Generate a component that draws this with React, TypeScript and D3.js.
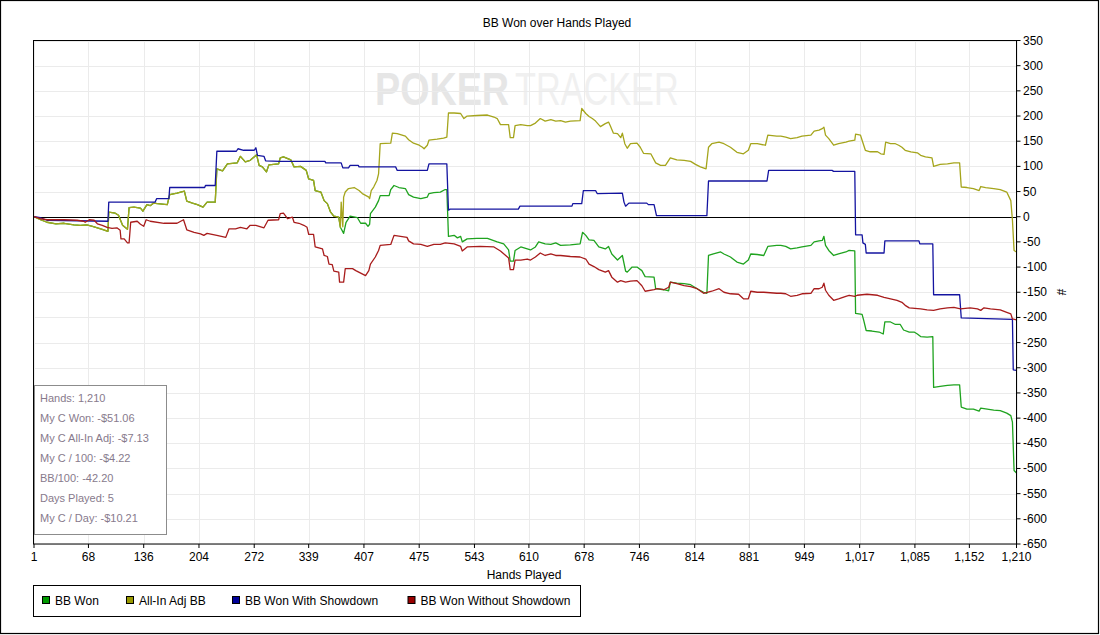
import React from "react";
import * as d3 from "d3";

type Pt = [number, number];

const chartTitle = "BB Won over Hands Played";
const xAxisTitle = "Hands Played";
const yAxisTitle = "#";
const watermarkBold = "POKER";
const watermarkLight = "TRACKER";

const xTicks = [1, 68, 136, 204, 272, 339, 407, 475, 543, 610, 678, 746, 814, 881, 949, 1017, 1085, 1152, 1210];
const yTicks = d3.range(-650, 351, 50);

const statsLines = [
  "Hands: 1,210",
  "My C Won: -$51.06",
  "My C All-In Adj: -$7.13",
  "My C / 100: -$4.22",
  "BB/100: -42.20",
  "Days Played: 5",
  "My C / Day: -$10.21",
];

const seriesNames = ["BB Won", "All-In Adj BB", "BB Won With Showdown", "BB Won Without Showdown"];
const seriesLineColors = ["#1fa31f", "#a5a51c", "#1414a0", "#a81c1c"];
const seriesSwatchColors = ["#009900", "#999900", "#000099", "#990000"];

// BB Won (hand, BB)
const bbWon: Pt[] = [
  [1,0],[9,-6],[17,-11],[28,-14],[38,-13],[50,-16],[58,-17],[66,-16],[73,-19],[79,-22],[85,-25],[92,-29],[93,9],[101,7],[105,3],[110,-17],[116,-25],[118,18],[124,19],[132,17],[135,11],[140,24],[144,22],[148,27],[153,26],[165,24],[168,44],[177,47],[186,51],[189,31],[196,27],[202,24],[209,19],[214,29],[224,29],[226,95],[233,91],[239,105],[251,107],[255,120],[261,109],[267,112],[275,123],[278,102],[282,99],[287,89],[290,103],[302,105],[304,117],[308,119],[317,113],[321,99],[329,100],[336,92],[339,75],[345,72],[347,52],[354,49],[358,32],[362,26],[366,9],[370,1],[376,-1],[378,-21],[382,-33],[385,-11],[390,1],[399,-2],[403,-13],[409,-13],[412,-19],[414,-15],[415,6],[421,19],[425,32],[427,42],[438,42],[440,54],[444,62],[450,58],[458,56],[462,44],[468,39],[477,36],[485,39],[487,46],[493,48],[501,49],[507,54],[509,54],[511,-39],[518,-37],[522,-42],[526,-39],[528,-50],[534,-44],[546,-43],[559,-43],[571,-50],[579,-54],[585,-66],[587,-88],[591,-88],[593,-67],[600,-60],[608,-64],[612,-66],[618,-60],[622,-50],[630,-54],[637,-55],[643,-52],[649,-57],[661,-56],[673,-54],[676,-31],[680,-37],[684,-46],[690,-47],[696,-60],[704,-64],[708,-59],[712,-74],[719,-86],[725,-77],[729,-108],[731,-110],[737,-100],[743,-100],[749,-107],[753,-119],[764,-120],[766,-143],[776,-145],[782,-147],[784,-130],[792,-132],[801,-133],[809,-135],[817,-143],[825,-150],[829,-152],[831,-77],[837,-74],[846,-70],[850,-74],[858,-80],[866,-90],[874,-94],[880,-86],[883,-74],[891,-75],[899,-77],[904,-59],[915,-57],[920,-57],[926,-59],[932,-64],[940,-62],[946,-60],[957,-57],[961,-50],[967,-48],[971,-47],[973,-39],[975,-57],[979,-67],[985,-77],[991,-74],[1000,-70],[1004,-67],[1011,-68],[1012,-192],[1020,-194],[1022,-206],[1025,-226],[1032,-227],[1041,-229],[1046,-233],[1048,-209],[1055,-209],[1061,-214],[1067,-214],[1071,-225],[1078,-229],[1084,-229],[1088,-233],[1092,-238],[1100,-239],[1107,-238],[1108,-339],[1116,-337],[1125,-335],[1133,-334],[1140,-334],[1142,-378],[1149,-382],[1157,-382],[1164,-386],[1166,-380],[1174,-382],[1182,-384],[1190,-385],[1198,-390],[1203,-395],[1205,-408],[1207,-504],[1210,-509],
];

// All-In Adj BB (hand, BB)
const allInAdj: Pt[] = [
  [1,0],[9,-6],[17,-11],[28,-14],[38,-13],[50,-16],[58,-17],[66,-16],[73,-19],[79,-22],[85,-25],[92,-29],[93,9],[101,7],[105,3],[110,-17],[116,-25],[118,18],[124,19],[132,17],[135,11],[140,24],[144,22],[148,27],[153,26],[165,24],[168,44],[177,47],[186,51],[189,31],[196,27],[202,24],[209,19],[214,29],[224,29],[226,95],[233,91],[239,105],[251,107],[255,120],[261,109],[267,112],[275,123],[278,102],[282,99],[287,89],[290,103],[302,105],[304,117],[308,119],[317,113],[321,99],[329,100],[336,92],[339,75],[345,72],[347,52],[354,49],[358,32],[362,26],[366,9],[370,1],[376,-1],[378,-21],
  [379,29],[381,-20],[382,39],[384,49],[388,56],[395,58],[401,52],[405,46],[413,39],[414,36],[416,52],[419,59],[423,72],[425,85],[427,145],[440,146],[442,166],[448,165],[458,160],[462,153],[468,146],[475,142],[479,138],[481,135],[485,142],[487,152],[497,154],[505,156],[509,158],[511,206],[518,206],[526,205],[530,195],[534,200],[546,201],[559,202],[567,198],[571,195],[575,183],[585,183],[587,157],[591,157],[593,181],[600,183],[608,181],[612,181],[618,186],[624,195],[630,190],[637,193],[643,190],[649,191],[655,188],[661,190],[673,191],[675,215],[680,205],[684,199],[688,195],[692,190],[698,179],[704,185],[708,188],[710,181],[714,166],[719,165],[723,157],[725,166],[728,145],[731,136],[735,145],[743,146],[747,138],[751,126],[760,125],[766,107],[772,102],[778,102],[784,117],[792,113],[801,112],[809,110],[815,104],[821,99],[828,95],[831,138],[835,145],[844,148],[850,145],[858,138],[866,128],[874,125],[880,132],[883,145],[891,145],[901,142],[904,162],[915,160],[920,160],[926,158],[932,155],[940,157],[946,160],[957,162],[961,170],[967,172],[971,175],[973,178],[975,162],[979,155],[985,142],[991,145],[1000,148],[1004,150],[1011,152],[1012,164],[1018,162],[1020,152],[1024,132],[1030,129],[1039,129],[1043,125],[1047,124],[1049,148],[1055,145],[1061,145],[1065,142],[1069,138],[1073,132],[1080,129],[1088,127],[1092,122],[1098,119],[1106,117],[1108,100],[1116,104],[1125,105],[1133,107],[1140,107],[1142,59],[1149,58],[1157,56],[1164,52],[1166,60],[1172,58],[1182,56],[1190,54],[1198,49],[1203,32],[1205,-7],[1207,-67],[1210,-70],
];

// BB Won With Showdown (hand, BB)
const withShowdown: Pt[] = [
  [1,0],[9,-2],[17,-7],[92,-9],[93,29],[150,29],[152,36],[167,36],[168,58],[211,58],[212,62],[224,62],[226,130],[250,130],[252,135],[259,132],[272,132],[274,137],[276,122],[284,120],[286,111],[304,110],[359,110],[360,107],[379,107],[381,97],[388,97],[390,102],[400,102],[401,99],[446,99],[448,92],[485,92],[487,105],[509,105],[511,13],[513,15],[597,15],[599,21],[663,21],[664,26],[675,26],[677,52],[692,52],[694,46],[725,47],[727,29],[729,21],[733,27],[755,27],[757,24],[764,24],[767,2],[829,2],[831,71],[903,71],[905,92],[983,92],[985,90],[1011,90],[1012,-36],[1020,-36],[1021,-52],[1024,-55],[1025,-72],[1047,-72],[1048,-48],[1090,-48],[1091,-54],[1107,-54],[1108,-155],[1140,-155],[1142,-201],[1205,-204],[1206,-304],[1210,-305],
];

// BB Won Without Showdown (hand, BB)
const withoutShowdown: Pt[] = [
  [1,0],[9,-4],[17,-6],[38,-6],[54,-7],[62,-9],[64,-11],[69,-6],[75,-7],[79,-14],[85,-17],[91,-21],[97,-23],[103,-22],[107,-27],[108,-44],[112,-44],[116,-52],[118,-52],[120,-11],[128,-9],[132,-15],[136,-19],[139,-6],[144,-9],[161,-13],[177,-13],[185,-6],[189,-26],[198,-31],[206,-34],[210,-37],[214,-33],[226,-37],[237,-41],[241,-24],[249,-24],[255,-21],[263,-24],[267,-17],[274,-17],[284,-22],[289,-7],[302,-6],[304,6],[308,7],[313,-4],[319,-1],[321,-11],[327,-13],[333,-17],[337,-21],[339,-35],[345,-35],[347,-60],[356,-64],[358,-77],[362,-79],[364,-94],[368,-95],[370,-108],[376,-110],[377,-130],[382,-130],[384,-103],[393,-103],[397,-107],[403,-112],[409,-117],[413,-107],[415,-94],[421,-80],[425,-67],[427,-57],[440,-55],[444,-37],[452,-39],[460,-41],[462,-48],[468,-54],[477,-55],[485,-59],[493,-55],[501,-55],[507,-52],[518,-54],[526,-59],[528,-68],[534,-60],[550,-59],[567,-60],[575,-68],[585,-82],[587,-105],[591,-105],[593,-86],[600,-86],[608,-84],[612,-86],[618,-80],[624,-72],[630,-77],[637,-74],[643,-77],[649,-77],[661,-79],[673,-80],[680,-84],[684,-94],[690,-99],[696,-105],[704,-110],[708,-107],[712,-120],[719,-130],[723,-127],[729,-130],[735,-128],[743,-127],[749,-137],[753,-148],[764,-145],[768,-143],[776,-145],[782,-140],[784,-130],[792,-133],[801,-137],[809,-139],[817,-143],[825,-152],[835,-148],[844,-143],[850,-150],[858,-153],[868,-154],[874,-163],[880,-163],[883,-148],[891,-150],[899,-150],[915,-152],[920,-152],[926,-153],[932,-158],[940,-156],[946,-153],[957,-152],[961,-143],[967,-143],[971,-140],[973,-132],[975,-146],[979,-156],[985,-166],[991,-163],[1000,-158],[1004,-156],[1011,-158],[1014,-156],[1026,-154],[1039,-156],[1047,-160],[1055,-163],[1063,-166],[1069,-170],[1073,-176],[1078,-181],[1092,-183],[1100,-185],[1108,-186],[1116,-183],[1125,-181],[1133,-180],[1141,-183],[1153,-181],[1162,-183],[1166,-186],[1170,-181],[1178,-183],[1190,-185],[1198,-190],[1203,-193],[1205,-203],[1210,-205],
];

const allSeries = [bbWon, allInAdj, withShowdown, withoutShowdown];

const W = 1100;
const H = 635;
const plot = { left: 33.5, right: 1016.5, top: 40.5, bottom: 544 };
const FONT = "'Liberation Sans', Arial, sans-serif";

export default function App() {
  const x = d3.scaleLinear().domain([1, 1210]).range([34, plot.right]);
  const y = d3.scaleLinear().domain([-650, 350]).range([plot.bottom, plot.top]);
  const line = d3
    .line<Pt>()
    .x((d) => x(d[0]))
    .y((d) => y(d[1]));
  const fmt = d3.format(",");

  const legendX = [42, 126, 232, 407.5];

  return (
    <svg
      width={W}
      height={H}
      style={{ position: "absolute", left: 0, top: 0, background: "#fff" }}
      fontFamily={FONT}
    >
      <rect x={0} y={0} width={W} height={H} fill="#fff" />
      <rect x={0.5} y={0.5} width={1098} height={633} fill="none" stroke="#000" strokeWidth={1.2} />

      <text x={557} y={27} fontSize={12} textAnchor="middle" fill="#000">
        {chartTitle}
      </text>

      {/* watermark */}
      <text x={0} y={0} fontSize={46} fontWeight="bold" fill="#e6e6e6" transform="translate(375,105) scale(0.82,1)">
        {watermarkBold}
      </text>
      <text x={0} y={0} fontSize={46} fill="#f0f0f0" transform="translate(515,105) scale(0.745,1)">
        {watermarkLight}
      </text>

      {/* grid */}
      <g stroke="#ebebeb" strokeWidth={1}>
        {yTicks.map((t) => (
          <line key={"gy" + t} x1={plot.left} x2={plot.right} y1={Math.round(y(t)) + 0.5} y2={Math.round(y(t)) + 0.5} />
        ))}
        {xTicks.map((t) => (
          <line key={"gx" + t} x1={Math.round(x(t)) + 0.5} x2={Math.round(x(t)) + 0.5} y1={plot.top} y2={plot.bottom} />
        ))}
      </g>

      {/* zero line */}
      <line x1={plot.left} x2={plot.right} y1={Math.round(y(0)) + 0.5} y2={Math.round(y(0)) + 0.5} stroke="#000" strokeWidth={1} />

      {/* series */}
      <g fill="none" strokeWidth={1.3} strokeLinejoin="round">
        {allSeries.map((s, i) => (
          <path key={"s" + i} d={line(s) || ""} stroke={seriesLineColors[i]} />
        ))}
      </g>

      {/* plot frame */}
      <rect x={plot.left} y={plot.top} width={plot.right - plot.left} height={plot.bottom - plot.top} fill="none" stroke="#000" strokeWidth={1} />

      {/* y axis ticks (right) */}
      <g fontSize={12} fill="#000">
        {yTicks.map((t) => (
          <g key={"yt" + t}>
            <line x1={plot.right} x2={plot.right + 4} y1={y(t)} y2={y(t)} stroke="#000" />
            <text x={1023} y={y(t)} dominantBaseline="central">
              {t}
            </text>
          </g>
        ))}
      </g>
      <text x={1061} y={292} fontSize={12} textAnchor="middle" dominantBaseline="central" transform="rotate(90 1061 292)">
        {yAxisTitle}
      </text>

      {/* x axis ticks */}
      <g fontSize={12} fill="#000">
        {xTicks.map((t) => (
          <g key={"xt" + t}>
            <line x1={x(t)} x2={x(t)} y1={plot.bottom} y2={plot.bottom + 4} stroke="#000" />
            <text x={x(t)} y={561} textAnchor="middle">
              {fmt(t)}
            </text>
          </g>
        ))}
      </g>
      <text x={524} y={579} fontSize={12} textAnchor="middle">
        {xAxisTitle}
      </text>

      {/* stats box */}
      <rect x={34.5} y={385.5} width={132} height={149} fill="#fff" stroke="#8c8c8c" strokeWidth={1} />
      <g fontSize={11} fill="#877a8c">
        {statsLines.map((s, i) => (
          <text key={"st" + i} x={40} y={402 + i * 20}>
            {s}
          </text>
        ))}
      </g>

      {/* legend */}
      <rect x={33.5} y={585.5} width={547} height={31} fill="#fff" stroke="#000" strokeWidth={1} />
      {seriesNames.map((n, i) => (
        <g key={"lg" + i}>
          <rect x={legendX[i] + 0.5} y={596.5} width={7} height={7} fill={seriesSwatchColors[i]} stroke="#000" strokeWidth={1} />
          <text x={legendX[i] + 13} y={604.5} fontSize={12} fill="#000">
            {n}
          </text>
        </g>
      ))}
    </svg>
  );
}
